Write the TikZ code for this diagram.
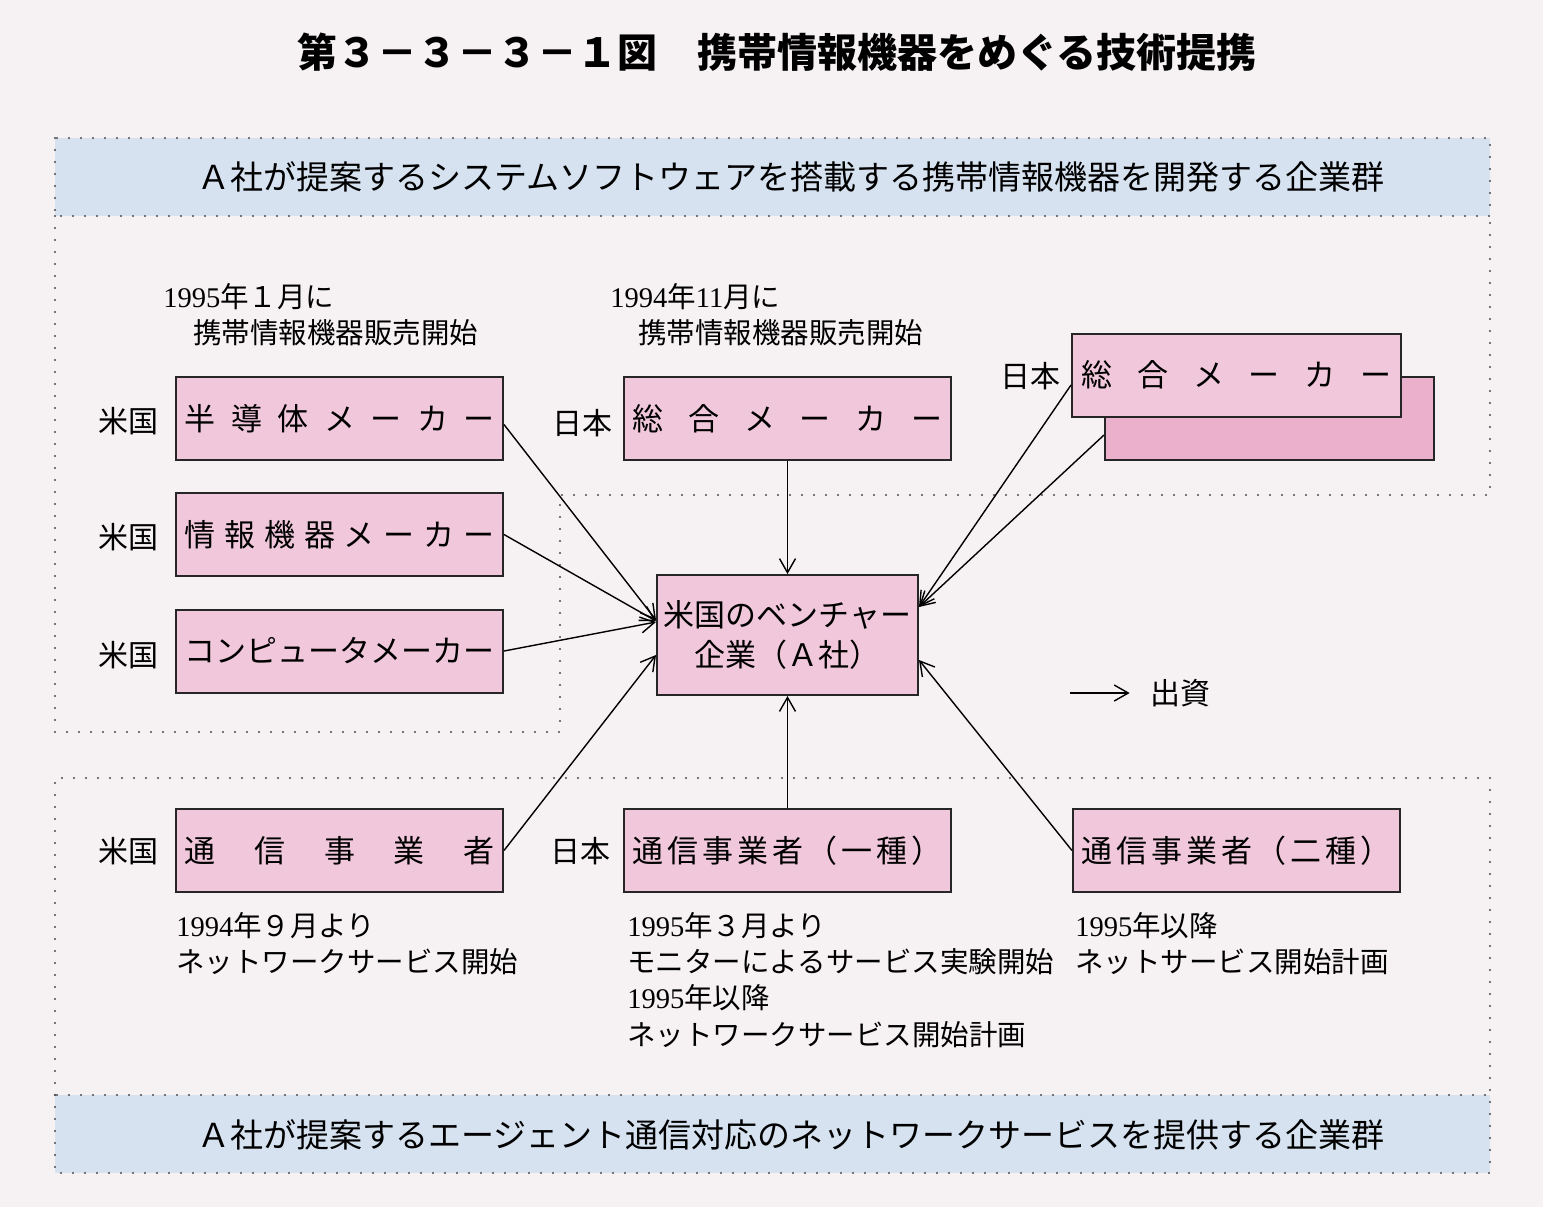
\documentclass[tikz,border=0pt]{standalone}
\usepackage{fontspec}
\setmainfont{Liberation Serif}
\newfontfamily\jp{Noto Sans CJK JP}
\usetikzlibrary{arrows.meta,calc}
\definecolor{bgc}{RGB}{246,241,243}
\definecolor{pinkc}{RGB}{241,200,219}
\definecolor{pinkd}{RGB}{234,176,204}
\definecolor{bluec}{RGB}{214,226,240}
\def\spx#1{\ifx#1\relax\else#1\expandafter\spy\fi}
\def\spy#1{\ifx#1\relax\else\hfill#1\expandafter\spy\fi}
\newcommand\spreadtxt[1]{\makebox[155pt][s]{\spx#1\relax}}
\newcommand\dg[1]{{\rmfamily #1}}
\begin{document}
\begin{tikzpicture}[x=0.5pt,y=-0.5pt,
  box/.style={draw=black!85, line width=1pt, fill=pinkc, minimum width=163.5pt, minimum height=41.5pt, inner sep=0pt, font=\jp\fontsize{15.5}{20}\selectfont},
  lab/.style={inner sep=0pt, font=\jp\fontsize{15}{18}\selectfont},
  note/.style={anchor=west, inner sep=0pt, font=\jp\fontsize{14.25}{18}\selectfont},
  band/.style={inner sep=0pt, font=\jp\fontsize{16.5}{20}\selectfont},
  dotl/.style={line width=1.1pt, black!70, dash pattern=on 0pt off 6pt, line cap=round},
  arr/.style={line width=0.7pt, -{Straight Barb[length=7pt,width=8pt,line width=0.7pt]}}]
\useasboundingbox (0,0) rectangle (1543,1207);
\fill[bgc] (0,0) rectangle (1543,1207);
% title
\node[inner sep=0pt, font=\jp\bfseries\fontsize{20}{24}\selectfont] (title) at (777,52) {第３－３－３－１図　携帯情報機器をめぐる技術提携};
% top band and region
\fill[bluec] (55,138) rectangle (1490,216);
\draw[dotl] (55,138) rectangle (1490,216);
\draw[dotl] (55,216) -- (55,732) -- (560,732) -- (560,495) -- (1490,495) -- (1490,216);
\node[band] (topband) at (791,177) {Ａ社が提案するシステムソフトウェアを搭載する携帯情報機器を開発する企業群};
% bottom band and region
\fill[bluec] (55,1095) rectangle (1490,1173);
\draw[dotl] (55,1095) rectangle (1490,1173);
\draw[dotl] (55,1095) -- (55,778) -- (1490,778) -- (1490,1095);
\node[band] (botband) at (791,1135) {Ａ社が提案するエージェント通信対応のネットワークサービスを提供する企業群};
% boxes
\node[box] (hd) at (339.5,418.5) {\spreadtxt{半導体メーカー}};
\node[box] (jk) at (339.5,534.5) {\spreadtxt{情報機器メーカー}};
\node[box] (cp) at (339.5,651) {\spreadtxt{コンピュータメーカー}};
\node[box] (sg1) at (787.5,418.5) {\spreadtxt{総合メーカー}};
\node[box, fill=pinkd, minimum width=164.5pt] (sgb) at (1269.5,418) {};
\node[box, minimum width=164.5pt] (sgf) at (1236.5,375) {\spreadtxt{総合メーカー}};
\node[box, minimum width=130.5pt, minimum height=60pt, align=center] (A) at (787.5,635) {米国のベンチャー\\企業（Ａ社）};
\node[box] (tu) at (339.5,850.5) {\spreadtxt{通信事業者}};
\node[box] (t1) at (787.5,850.5) {\spreadtxt{通信事業者（一種）}};
\node[box] (t2) at (1236.5,850.5) {\spreadtxt{通信事業者（二種）}};
% country labels
\node[lab] (l1) at (128,421) {米国};
\node[lab] (l2) at (128,537) {米国};
\node[lab] (l3) at (128,655) {米国};
\node[lab] (l4) at (128,851) {米国};
\node[lab] (l5) at (582,423) {日本};
\node[lab] (l6) at (1030,376) {日本};
\node[lab] (l7) at (580,851) {日本};
% notes
\node[note] (n1) at (163,297) {\dg{1995}年１月に};
\node[note] (n2) at (193,333) {携帯情報機器販売開始};
\node[note] (n3) at (610,297) {\dg{1994}年\dg{11}月に};
\node[note] (n4) at (638,333) {携帯情報機器販売開始};
\node[note] (n5) at (176,926) {\dg{1994}年９月より};
\node[note] (n6) at (176,962) {ネットワークサービス開始};
\node[note] (n7) at (627,926) {\dg{1995}年３月より};
\node[note] (n8) at (627,962) {モニターによるサービス実験開始};
\node[note] (n9) at (627,998) {\dg{1995}年以降};
\node[note] (n10) at (627,1035) {ネットワークサービス開始計画};
\node[note] (n11) at (1075,926) {\dg{1995}年以降};
\node[note] (n12) at (1075,962) {ネットサービス開始計画};
% arrows
\draw[arr] ($(hd.east)+(0,6)$) -- ($(A.west)+(0,-15)$);
\draw[arr] (jk.east) -- ($(A.west)+(0,-14)$);
\draw[arr] (cp.east) -- ($(A.west)+(0,-13)$);
\draw[arr] (tu.east) -- ($(A.west)+(0,20)$);
\draw[arr] (sg1.south) -- (A.north);
\draw[arr] (t1.north) -- (A.south);
\draw[arr] ($(sgf.west)+(0,10)$) -- ($(A.east)+(0,-28)$);
\draw[arr] ($(sgb.west)+(0,17)$) -- ($(A.east)+(0,-28)$);
\draw[arr] (t2.west) -- ($(A.east)+(0,25)$);
% legend
\coordinate (lg) at (1070,693);
\node[lab] (ss) at (1180,693) {出資};
\draw[arr] (lg) -- ($(ss.west)+(-20,0)$);
\end{tikzpicture}
\end{document}
